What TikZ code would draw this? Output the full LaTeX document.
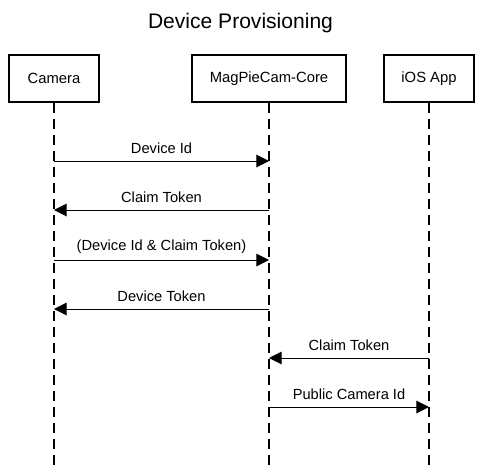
\documentclass[tikz,border=0pt]{standalone}
\usepackage{fontspec}
\setmainfont{Liberation Sans}
\usetikzlibrary{arrows.meta,positioning}

\begin{document}
\begin{tikzpicture}[x=0.75pt,y=-0.75pt,>={Triangle[length=9.5pt,width=9.5pt]},
    actor/.style={draw,line width=1.5pt,minimum height=35pt,inner sep=0pt,font=\fontsize{11.1}{13}\selectfont},
    life/.style={dash pattern=on 7.5pt off 4.5pt,line width=0.9pt},
    msg/.style={->,line width=0.75pt,font=\fontsize{11}{13}\selectfont}]

    \useasboundingbox (0,0) rectangle (484,469);

    \node[anchor=base,font=\fontsize{15.8}{18}\selectfont] (title) at (240.5,28) {Device Provisioning};

    \node[actor,minimum width=68pt] (cam) at (54,78.5) {Camera};
    \node[actor,minimum width=115pt] (core) at (269,78.5) {MagPieCam-Core};
    \node[actor,minimum width=67.5pt] (app) at (429,78.5) {iOS App};

    % lifelines
    \foreach \n in {cam,core,app}
        \draw[life] (\n.south) -- (\n |- 0,469);

    % messages
    \foreach \y/\a/\b/\txt in {161/cam/core/{Device Id},
                               210/core/cam/{Claim Token},
                               260/cam/core/{(Device Id \& Claim Token)},
                               309/core/cam/{Device Token},
                               358/app/core/{Claim Token},
                               407/core/app/{Public Camera Id}}
        \draw[msg] (\a |- 0,\y) -- node[above=1.5pt]{\txt} (\b |- 0,\y);
\end{tikzpicture}
\end{document}
